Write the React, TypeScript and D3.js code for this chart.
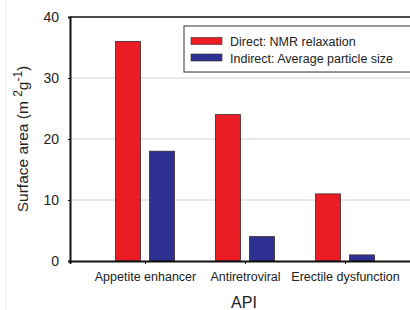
import React, { useEffect, useRef } from "react";
import * as d3 from "d3";

const categories = ["Appetite enhancer", "Antiretroviral", "Erectile dysfunction"];
const seriesNames = ["Direct: NMR relaxation", "Indirect: Average particle size"];
const directValues = [36, 24, 11];
const indirectValues = [18, 4, 1];
const yTicks = [0, 10, 20, 30, 40];
const seriesColors = ["#ec1c24", "#2e3192"];

const App = () => {
  const chartRef = useRef<SVGSVGElement>(null);

  useEffect(() => {
    const svg = d3.select(chartRef.current);
    svg.selectAll("*").remove();

    const font = "Liberation Sans, Arial, Helvetica, sans-serif";
    const margin = { top: 17, left: 70, bottom: 261, right: 420 };

    // faint scan border on the left
    svg
      .append("line")
      .attr("x1", 6)
      .attr("x2", 6)
      .attr("y1", 0)
      .attr("y2", 310)
      .attr("stroke", "#eeeeee");

    const yScale = d3.scaleLinear().domain([0, 40]).range([margin.bottom, margin.top]);

    const xScale = d3
      .scalePoint<string>()
      .domain(categories)
      .range([margin.left, margin.right])
      .padding(0.75);

    const inner = d3
      .scaleBand<number>()
      .domain([0, 1])
      .range([-29.5, 29.5])
      .paddingInner(0.265);

    // gridlines
    svg
      .append("g")
      .selectAll("line")
      .data(yTicks.filter((t) => t > 0 && t < 40))
      .join("line")
      .attr("x1", margin.left)
      .attr("x2", margin.right)
      .attr("y1", (d) => yScale(d))
      .attr("y2", (d) => yScale(d))
      .attr("stroke", "#d4d4d4")
      .attr("stroke-width", 1);

    // bars
    const rows = categories.map((c, i) => ({
      cat: c,
      values: [directValues[i], indirectValues[i]],
    }));

    svg
      .append("g")
      .selectAll("g")
      .data(rows)
      .join("g")
      .attr("transform", (d) => `translate(${xScale(d.cat)},0)`)
      .selectAll("rect")
      .data((d) => d.values)
      .join("rect")
      .attr("x", (_, i) => inner(i)!)
      .attr("y", (v) => yScale(v))
      .attr("width", inner.bandwidth())
      .attr("height", (v) => yScale(0) - yScale(v))
      .attr("fill", (_, i) => seriesColors[i])
      .attr("stroke", "#3a2a2a")
      .attr("stroke-width", 0.8);

    // frame top line
    svg
      .append("line")
      .attr("x1", margin.left)
      .attr("x2", margin.right)
      .attr("y1", margin.top)
      .attr("y2", margin.top)
      .attr("stroke", "#111")
      .attr("stroke-width", 1.5);

    // axes
    const yAxis = d3
      .axisLeft(yScale)
      .tickValues(yTicks)
      .tickSize(2)
      .tickPadding(9);
    const gy = svg
      .append("g")
      .attr("transform", `translate(${margin.left},0)`)
      .call(yAxis);
    gy.select(".domain").attr("stroke", "#111").attr("stroke-width", 2);
    gy.selectAll(".tick line").attr("stroke", "#111");
    gy.selectAll("text")
      .attr("font-family", font)
      .attr("font-size", 14)
      .attr("fill", "#222");

    const xAxis = d3.axisBottom(xScale).tickSize(3).tickPadding(8);
    const gx = svg
      .append("g")
      .attr("transform", `translate(0,${margin.bottom})`)
      .call(xAxis);
    gx.select(".domain").attr("stroke", "#111").attr("stroke-width", 1.8);
    gx.selectAll(".tick line").attr("stroke", "#111");
    gx.selectAll("text")
      .attr("font-family", font)
      .attr("font-size", 12.5)
      .attr("fill", "#222");

    // legend
    const legend = svg.append("g");
    legend
      .append("rect")
      .attr("x", 184)
      .attr("y", 26)
      .attr("width", 240)
      .attr("height", 46)
      .attr("fill", "#fff")
      .attr("stroke", "#333")
      .attr("stroke-width", 1);
    seriesNames.forEach((name, i) => {
      legend
        .append("rect")
        .attr("x", 191)
        .attr("y", 37.5 + i * 16.5)
        .attr("width", 31)
        .attr("height", 7)
        .attr("fill", seriesColors[i])
        .attr("stroke", "#3a2a2a")
        .attr("stroke-width", 0.6);
      legend
        .append("text")
        .attr("x", 230)
        .attr("y", 46 + i * 16.5)
        .attr("font-family", font)
        .attr("font-size", 12.5)
        .attr("fill", "#222")
        .text(name);
    });

    // axis titles
    const yTitle = svg
      .append("text")
      .attr("transform", "translate(28,139) rotate(-90)")
      .attr("text-anchor", "middle")
      .attr("font-family", font)
      .attr("font-size", 15.5)
      .attr("fill", "#222");
    yTitle.append("tspan").text("Surface area (m ");
    yTitle.append("tspan").attr("dy", -6).attr("font-size", 12).text("2");
    yTitle.append("tspan").attr("dy", 6).text("g");
    yTitle.append("tspan").attr("dy", -6).attr("font-size", 12).text("-1");
    yTitle.append("tspan").attr("dy", 6).text(")");

    svg
      .append("text")
      .attr("x", 244)
      .attr("y", 308)
      .attr("text-anchor", "middle")
      .attr("font-family", font)
      .attr("font-size", 16)
      .attr("fill", "#222")
      .text("API");
  }, []);

  return (
    <svg
      ref={chartRef}
      width={410}
      height={310}
      style={{ position: "absolute", left: 0, top: 0, background: "#fff" }}
    />
  );
};

export default App;
